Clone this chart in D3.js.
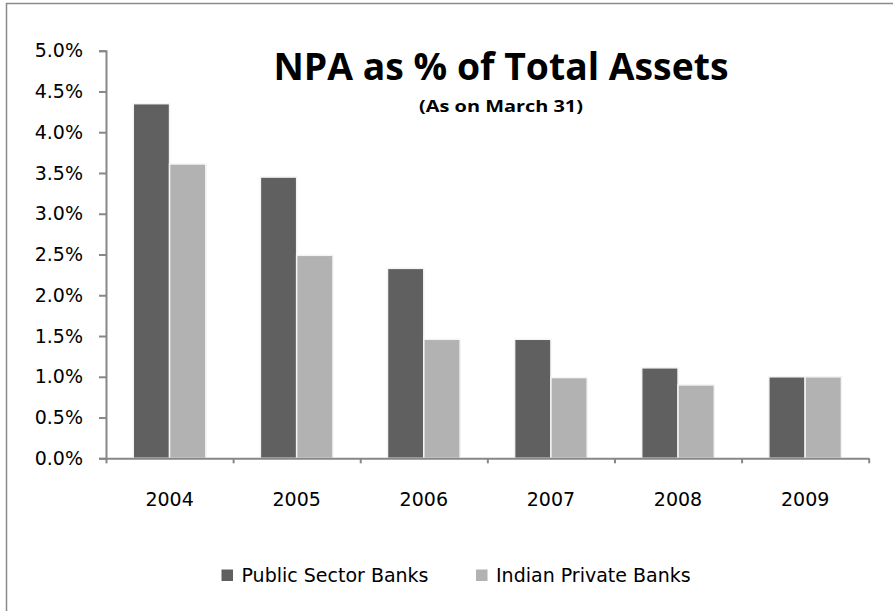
<!DOCTYPE html>
<html>
<head>
<meta charset="utf-8">
<script src="https://cdn.jsdelivr.net/npm/d3@7"></script>
<style>
  html, body { margin: 0; padding: 0; background: #ffffff; }
  svg { display: block; }
  text { font-family: "DejaVu Sans", "Open Sans", sans-serif; fill: #000; }
</style>
</head>
<body>
<svg id="chart" width="893" height="611"></svg>
<script>
// Fiscal years (as on March 31)
const years = ["2004", "2005", "2006", "2007", "2008", "2009"];
// NPA as % of total assets
const publicSector = [4.35, 3.45, 2.33, 1.46, 1.11, 1.00];
const indianPrivate = [3.61, 2.49, 1.46, 0.99, 0.90, 1.00];
const seriesNames = ["Public Sector Banks", "Indian Private Banks"];
const seriesColors = ["#606060", "#b2b2b2"];
const yTicks = [0, 0.5, 1, 1.5, 2, 2.5, 3, 3.5, 4, 4.5, 5];

const svg = d3.select("#chart");
const axisColor = "#878787";

// outer frame
svg.append("rect")
  .attr("x", 6.5).attr("y", 3.5)
  .attr("width", 1000).attr("height", 1000)
  .attr("fill", "none")
  .attr("stroke", "#8a8a8a")
  .attr("stroke-width", 1.5);

const plot = { left: 106, right: 868.7, top: 50.7, bottom: 458.3 };

const x0 = d3.scaleBand()
  .domain(years)
  .range([plot.left, plot.right])
  .paddingInner(0.429)
  .paddingOuter(0.2145);

const x1 = d3.scaleBand()
  .domain(seriesNames)
  .range([0, x0.bandwidth()]);

const y = d3.scaleLinear()
  .domain([0, 5])
  .range([plot.bottom, plot.top]);

const rows = years.map((yr, i) => ({
  year: yr,
  values: [publicSector[i], indianPrivate[i]]
}));

// bars
const groups = svg.append("g").selectAll("g")
  .data(rows)
  .join("g")
  .attr("transform", d => `translate(${x0(d.year)},0)`);

groups.selectAll("rect")
  .data(d => d.values.map((v, k) => ({ v, k })))
  .join("rect")
  .attr("x", d => x1(seriesNames[d.k]))
  .attr("width", x1.bandwidth())
  .attr("y", d => y(d.v))
  .attr("height", d => y(0) - y(d.v))
  .attr("fill", d => seriesColors[d.k])
  .attr("stroke", "#f4f4f4")
  .attr("stroke-width", 1.5);

// y axis
const yAxis = svg.append("g")
  .attr("transform", `translate(${plot.left},0)`)
  .call(d3.axisLeft(y)
    .tickValues(yTicks)
    .tickSize(7)
    .tickPadding(16)
    .tickFormat(d => d3.format(".1f")(d) + "%"));
yAxis.selectAll("text")
  .style("font-family", "'DejaVu Sans', sans-serif")
  .style("font-size", "19px");

// x axis: boundary ticks between categories
const xIndex = d3.scaleLinear().domain([0, years.length]).range([plot.left, plot.right]);
const xAxisTicks = svg.append("g")
  .attr("transform", `translate(0,${plot.bottom})`)
  .call(d3.axisBottom(xIndex)
    .tickValues(d3.range(0, years.length + 1))
    .tickSize(5)
    .tickSizeOuter(0)
    .tickFormat(""));

// x axis: category labels
const xAxisLabels = svg.append("g")
  .attr("transform", `translate(0,${plot.bottom})`)
  .call(d3.axisBottom(x0).tickSize(0).tickPadding(34));
xAxisLabels.select(".domain").remove();
xAxisLabels.selectAll("text")
  .style("font-family", "'DejaVu Sans', sans-serif")
  .style("font-size", "19px");

[yAxis, xAxisTicks].forEach(g => {
  g.selectAll(".domain, line").attr("stroke", axisColor).attr("stroke-width", 2);
});

// two-line title, both lines centred on the same axis
const titleX = 501;
svg.append("text")
  .attr("x", titleX).attr("y", 79.5)
  .attr("text-anchor", "middle")
  .attr("textLength", 455)
  .attr("lengthAdjust", "spacingAndGlyphs")
  .style("font-family", "'Open Sans', Lato, sans-serif")
  .style("font-weight", "bold")
  .style("font-size", "37px")
  .text("NPA as % of Total Assets");

svg.append("text")
  .attr("x", titleX).attr("y", 112.3)
  .attr("text-anchor", "middle")
  .attr("textLength", 164)
  .attr("lengthAdjust", "spacingAndGlyphs")
  .style("font-family", "'Open Sans', Lato, sans-serif")
  .style("font-weight", "bold")
  .style("font-size", "16px")
  .text("(As on March 31)");

// legend
const legendX = [221.5, 476];
const legend = svg.append("g").selectAll("g")
  .data(seriesNames)
  .join("g")
  .attr("transform", (d, i) => `translate(${legendX[i]},569.5)`);
legend.append("rect")
  .attr("width", 11.5).attr("height", 11.5)
  .attr("fill", (d, i) => seriesColors[i]);
legend.append("text")
  .attr("x", 20).attr("y", 12.7)
  .style("font-family", "'DejaVu Sans', sans-serif")
  .style("font-size", "19px")
  .text(d => d);
</script>
</body>
</html>
